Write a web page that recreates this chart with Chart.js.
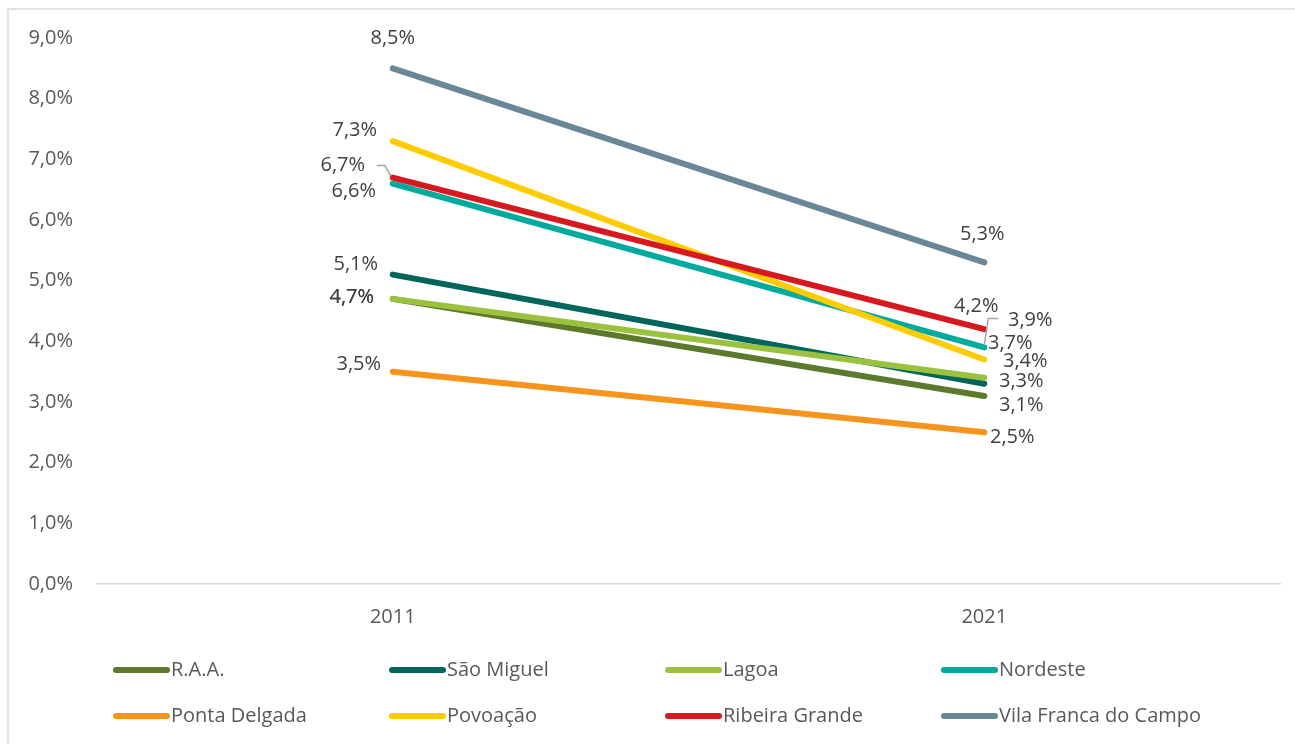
<!DOCTYPE html>
<html>
<head>
<meta charset="utf-8">
<script src="https://cdn.jsdelivr.net/npm/chart.js@4.4.1/dist/chart.umd.min.js"></script>
<style>
  html, body { margin: 0; padding: 0; background: #fff; }
  #wrap { width: 1295px; height: 744px; position: relative; }
</style>
</head>
<body>
<div id="wrap"><canvas id="chart" width="1295" height="744"></canvas></div>
<script>
(() => {
  const years = ['2011', '2021'];

  const seriesNames = ['R.A.A.', 'São Miguel', 'Lagoa', 'Nordeste',
    'Ponta Delgada', 'Povoação', 'Ribeira Grande', 'Vila Franca do Campo'];

  const raa = [4.7, 3.1];
  const saoMiguel = [5.1, 3.3];
  const lagoa = [4.7, 3.4];
  const nordeste = [6.6, 3.9];
  const pontaDelgada = [3.5, 2.5];
  const povoacao = [7.3, 3.7];
  const ribeiraGrande = [6.7, 4.2];
  const vilaFranca = [8.5, 5.3];

  const yTicks = [0, 1, 2, 3, 4, 5, 6, 7, 8, 9];

  const values = [raa, saoMiguel, lagoa, nordeste, pontaDelgada, povoacao, ribeiraGrande, vilaFranca];
  const colors = ['#5b7a2b', '#00665c', '#9bc23f', '#00aa9e', '#f7941d', '#ffcc00', '#d7191f', '#6a8798'];

  // label offsets (px) from each point, [2011, 2021]
  const labelOffsets = [
    [[-41, -2], [37, 9]],
    [[-37, -10], [37, -3]],
    [[-41, -2], [41, -16]],
    [[-39, 8], [46, -27]],
    [[-34, -7], [28, 5]],
    [[-38, -11], [26, -16]],
    [[-50, -12], [-8, -23]],
    [[0, -30], [-2, -28]],
  ];

  const fmt = (v) => v.toFixed(1).replace('.', ',') + '%';
  const FONT = '"Open Sans", sans-serif';

  const labelsPlugin = {
    id: 'pointLabels',
    beforeDraw(chart) {
      const ctx = chart.ctx;
      ctx.save();
      ctx.strokeStyle = '#d9d9d9';
      ctx.lineWidth = 1.5;
      ctx.strokeRect(8, 9, 1400, 900);
      ctx.restore();
    },
    afterDatasetsDraw(chart) {
      const ctx = chart.ctx;
      ctx.save();
      ctx.font = '20px ' + FONT;
      ctx.fillStyle = '#404040';
      ctx.textAlign = 'center';
      ctx.textBaseline = 'middle';
      chart.data.datasets.forEach((ds, i) => {
        const meta = chart.getDatasetMeta(i);
        meta.data.forEach((pt, j) => {
          const off = labelOffsets[i][j];
          ctx.fillText(fmt(ds.data[j]), pt.x + off[0], pt.y + off[1]);
        });
      });
      // leader lines
      ctx.strokeStyle = '#a6a6a6';
      ctx.lineWidth = 1.5;
      const rg = chart.getDatasetMeta(6).data[0];
      ctx.beginPath();
      ctx.moveTo(rg.x - 16, rg.y - 12);
      ctx.lineTo(rg.x - 8, rg.y - 12);
      ctx.lineTo(rg.x - 2, rg.y - 2);
      ctx.stroke();
      const nd = chart.getDatasetMeta(3).data[1];
      ctx.beginPath();
      ctx.moveTo(nd.x + 14, nd.y - 29);
      ctx.lineTo(nd.x + 4, nd.y - 29);
      ctx.lineTo(nd.x + 0, nd.y - 2);
      ctx.stroke();
      ctx.restore();
    },
    afterDraw(chart) {
      const ctx = chart.ctx;
      const colX = [113, 389, 665, 941];
      const rowY = [670, 716];
      ctx.save();
      ctx.font = '20px ' + FONT;
      ctx.fillStyle = '#595959';
      ctx.textAlign = 'left';
      ctx.textBaseline = 'middle';
      chart.data.datasets.forEach((ds, i) => {
        const x = colX[i % 4];
        const y = rowY[Math.floor(i / 4)];
        ctx.strokeStyle = ds.borderColor;
        ctx.lineWidth = 6;
        ctx.lineCap = 'round';
        ctx.beginPath();
        ctx.moveTo(x + 3, y);
        ctx.lineTo(x + 54, y);
        ctx.stroke();
        ctx.fillText(ds.label, x + 58, y);
      });
      ctx.restore();
    }
  };

  const datasets = values.map((v, i) => ({
    label: seriesNames[i],
    data: v,
    borderColor: colors[i],
    backgroundColor: colors[i],
    borderWidth: 6,
    borderCapStyle: 'round',
    pointRadius: 0,
    pointHoverRadius: 0,
    order: values.length - i,
  }));

  new Chart(document.getElementById('chart'), {
    type: 'line',
    data: { labels: years, datasets },
    options: {
      responsive: false,
      animation: false,
      events: [],
      layout: { padding: { left: 0, top: 38, right: 15, bottom: 0 } },
      plugins: {
        legend: { display: false },
        tooltip: { enabled: false },
        title: { display: false },
      },
      scales: {
        x: {
          offset: true,
          grid: { display: false, drawTicks: false },
          border: { display: true, color: '#d9d9d9', width: 1.5 },
          ticks: { color: '#595959', font: { family: FONT, size: 20 }, padding: 21 },
          afterFit(scale) { scale.height = 160; },
        },
        y: {
          min: 0,
          max: 9,
          afterBuildTicks(scale) { scale.ticks = yTicks.map((v) => ({ value: v })); },
          grid: { display: false, drawTicks: false },
          border: { display: false },
          ticks: {
            color: '#595959',
            font: { family: FONT, size: 20 },
            padding: 24,
            callback: (v) => fmt(v),
          },
          afterFit(scale) { scale.width = 97; },
        },
      },
    },
    plugins: [labelsPlugin],
  });
})();
</script>
</body>
</html>
